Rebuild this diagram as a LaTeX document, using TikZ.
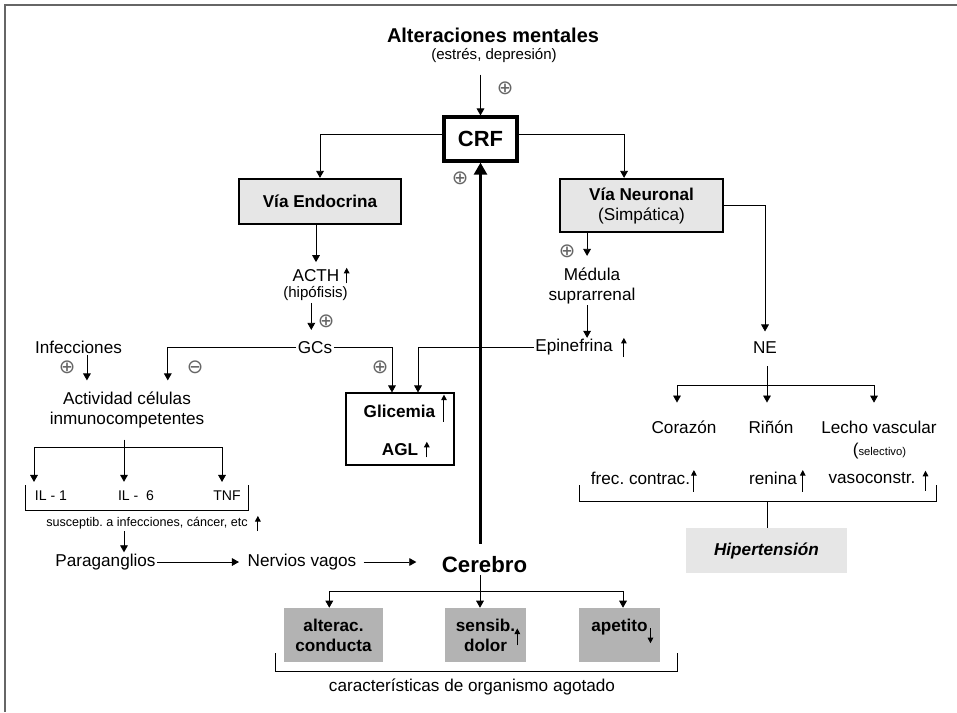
\documentclass[tikz,border=0pt]{standalone}
\usepackage{fontspec}
\setmainfont{Liberation Sans}
\newfontfamily\symf{DejaVu Sans}
\usetikzlibrary{arrows.meta, positioning}
\definecolor{boxgray}{HTML}{E6E6E6}
\definecolor{darkbox}{HTML}{B3B3B3}
\definecolor{framegray}{HTML}{666666}
\newcommand{\nsz}{\fontsize{12.2}{14.2}\selectfont}
\frenchspacing

\begin{document}
\begin{tikzpicture}[x=0.025cm, y=-0.025cm,
  txt/.style={inner sep=1pt, align=center},
  sml/.style={txt, font=\fontsize{10.7}{12.5}\selectfont},
  vbox/.style={draw, line width=1.6pt, fill=boxgray, font=\bfseries, align=center, inner sep=0pt},
  gbox/.style={fill=darkbox, font=\bfseries, align=center, inner sep=0pt, minimum width=2.025cm, minimum height=1.35cm},
  arr/.style={-{Triangle[length=5pt,width=5.5pt]}, line width=0.6pt},
  bigarr/.style={-{Triangle[length=8.5pt,width=9pt]}, line width=2.2pt},
  ind/.style={-{Triangle[length=4pt,width=4pt]}, line width=0.7pt},
  sgn/.style={inner sep=0pt, text=black!60, font=\symf\fontsize{14}{14}\selectfont}]
\nsz\frenchspacing
\useasboundingbox (0,0) rectangle (957,712);
\draw[framegray, line width=1pt] (5,712) -- (5,5) -- (957,5);

\node[txt, font=\fontsize{14.2}{16}\selectfont\bfseries] (alter) at (493,35) {Alteraciones mentales};
\node[sml] (estres) at (494,56) {(estrés, depresión)};
\node[draw, line width=2.2pt, font=\fontsize{15.6}{17}\selectfont\bfseries, minimum width=1.825cm, minimum height=1.1cm, inner sep=0pt] (crf) at (480.5,139) {CRF};
\node[vbox, minimum width=4.05cm, minimum height=1.125cm] (endo) at (320,201.5) {Vía Endocrina};
\node[vbox, minimum width=4.075cm, minimum height=1.325cm] (neuro) at (641.5,205.5) {Vía Neuronal\\\mdseries(Simpática)};
\node[sgn] (p1) at (505,88) {⊕};
\node[sgn] (p2) at (460,178) {⊕};

\node[txt] (acth) at (316,275.5) {ACTH};
\node[sml] (hipo) at (315.5,294) {(hipófisis)};
\node[txt] (gcs) at (315,347.5) {GCs};
\node[sgn] (p3) at (326,321) {⊕};
\node[txt] (infec) at (78.5,347.5) {Infecciones};
\node[sgn] (p5) at (67,367) {⊕};
\node[sgn] (m1) at (195,367) {⊖};
\node[sgn] (p4) at (380,367) {⊕};
\node[txt] (activ) at (127,410) {Actividad células\\inmunocompetentes};
\node[draw, line width=0.8pt, minimum width=2.7cm, minimum height=1.8cm] (glbox) at (400,429) {};
\node[txt, font=\bfseries] (glic) at (399.5,411) {Glicemia};
\node[txt, font=\bfseries] (agl) at (400,449.5) {AGL};

\node[txt, font=\fontsize{10}{12}\selectfont] (il1) at (51,495.5) {IL - 1};
\node[txt, font=\fontsize{10}{12}\selectfont] (il6) at (136,495.5) {IL - \ 6};
\node[txt, font=\fontsize{10}{12}\selectfont] (tnf) at (227,495.5) {TNF};
\node[txt, font=\fontsize{8.95}{10}\selectfont] (suscep) at (147,523.5) {susceptib. a infecciones, cáncer, etc};
\node[txt] (parag) at (105.5,562) {Paraganglios};
\node[txt] (nervios) at (302,562) {Nervios vagos};
\node[txt, font=\fontsize{15.8}{18}\selectfont\bfseries] (cerebro) at (484.5,565) {Cerebro};
\node[gbox, minimum width=2.475cm] (alt) at (333.5,635) {alterac.\\conducta};
\node[gbox] (sens) at (485.5,635) {sensib.\\dolor};
\node[gbox] (apet) at (619.5,635) {apetito\\\mbox{}};
\node[txt] (caract) at (472,687) {características de organismo agotado};

\node[txt] (medula) at (592,285.5) {Médula\\suprarrenal};
\node[sgn] (p6) at (567,251) {⊕};
\node[txt] (epi) at (574,347.5) {Epinefrina};
\node[txt] (ne) at (765,347.5) {NE};
\node[txt] (cora) at (684,427.5) {Corazón};
\node[txt] (rinon) at (771,427.5) {Riñón};
\node[txt] (lecho) at (879,427.5) {Lecho vascular};
\node[txt] (selec) at (879.5,451) {(\fontsize{8}{9}\selectfont selectivo)};
\node[txt] (frec) at (640.5,478) {frec. contrac.};
\node[txt] (renina) at (773,478) {renina};
\node[txt] (vaso) at (872,478) {vasoconstr.};
\node[fill=boxgray, minimum width=4.025cm, minimum height=1.125cm, font=\bfseries\itshape, inner sep=0pt] (hiper) at (766.5,550.5) {Hipertensión};

\coordinate (ilmid) at (124,447);
\coordinate (ill) at (34,447);
\coordinate (ilr) at (222,447);
\coordinate (cbar) at (480,591);
\coordinate (nebar) at (767,385);
\coordinate (nel) at (677,385);
\coordinate (ner) at (874,385);
\coordinate (hbar) at (767,501);

\draw[arr] ([yshift=-7pt]estres.south -| crf.north) -- (crf.north);
\draw[arr] ([yshift=3pt]crf.west) -| (endo.north);
\draw[arr] ([yshift=3pt]crf.east) -| ([xshift=-12.4pt]neuro.north);
\draw[bigarr, shorten <=8pt] (cerebro.north -| crf.south) -- (crf.south);

\draw[arr, shorten >=4pt] (endo.south -| acth.north) -- (acth.north);
\draw[ind] ([xshift=4pt]acth.south east) -- ([xshift=4pt]acth.north east);
\draw[arr, shorten >=7pt] ([xshift=-3pt]hipo.south) -- ([xshift=-3pt]hipo.south |- gcs.north);
\draw[arr, shorten >=7pt] (gcs.west) -| ([xshift=29pt]activ.north);
\draw[arr] (gcs.east) -| ([xshift=-5.7pt]glbox.north);
\draw[arr] (epi.west) -| ([xshift=12.8pt]glbox.north);
\draw[arr, shorten >=7pt] ([xshift=6pt]infec.south) -- ([xshift=6pt]infec.south |- activ.north);
\draw[ind] ([xshift=5pt,yshift=-2pt]glic.south east) -- ([xshift=5pt,yshift=6pt]glic.north east);
\draw[ind] ([xshift=5pt]agl.south east) -- ([xshift=5pt]agl.north east);

\draw ([yshift=-7pt]activ.south -| ilmid) -- (ilmid);
\draw (ill) -- (ilr);
\draw[arr, shorten >=5pt] (ill) -- (ill |- il1.north);
\draw[arr, shorten >=5pt] (ilmid) -- (ilmid |- il6.north);
\draw[arr, shorten >=5pt] (ilr) -- (ilr |- tnf.north);
\draw (25,485) |- (248,510) -- (248,485);
\draw[ind] ([xshift=6pt]suscep.south east) -- ([xshift=6pt]suscep.north east);
\draw[arr] (suscep.south -| ilmid) -- (parag.north -| ilmid);
\draw[arr, shorten >=5pt] (parag) -- (nervios);
\draw[arr, shorten <=4pt, shorten >=17pt] (nervios.east) -- (nervios.east -| cerebro.west);

\draw[arr] (cerebro.south -| cbar) -- (sens.north -| cbar);
\draw[arr] (cbar) -| ([xshift=-3pt]alt.north);
\draw[arr] (cbar) -| ([xshift=2.5pt]apet.north);
\draw[ind] ([xshift=-6.4pt,yshift=12pt]sens.south east) -- ++(0,-17);
\draw[ind] ([xshift=-7pt,yshift=24.2pt]apet.south east) -- ++(0,15);
\draw (275,653) |- (677,671) -- (677,653);

\draw[arr, shorten >=7pt] ([xshift=-3.5pt]neuro.south -| medula.north) -- ([xshift=-3.5pt]medula.north);
\draw[arr] ([xshift=-3.5pt]medula.south) -- ([xshift=-3.5pt]medula.south |- epi.north);
\draw[ind] ([xshift=6.8pt]epi.south east) -- ([xshift=6.8pt]epi.north east);
\draw[arr, shorten >=6pt] (neuro.east) -| (ne.north);
\draw ([yshift=-8pt]ne.south -| nebar) -- (nebar);
\draw (nel) -- (ner);
\draw[arr, shorten >=12pt] (nel) -- (nel |- cora.north);
\draw[arr, shorten >=12pt] (nebar) -- (nebar |- rinon.north);
\draw[arr, shorten >=12pt] (ner) -- (ner |- lecho.north);

\draw (579,485) |- (936,501) -- (936,485);
\draw[ind] ([xshift=1.5pt,yshift=-4pt]frec.south east) -- ([xshift=1.5pt]frec.north east);
\draw[ind] ([xshift=3pt,yshift=-4pt]renina.south east) -- ([xshift=3pt]renina.north east);
\draw[ind] ([xshift=6pt,yshift=-4pt]vaso.south east) -- ([xshift=6pt]vaso.north east);
\draw (hbar) -- (hiper.north -| hbar);
\end{tikzpicture}
\end{document}
